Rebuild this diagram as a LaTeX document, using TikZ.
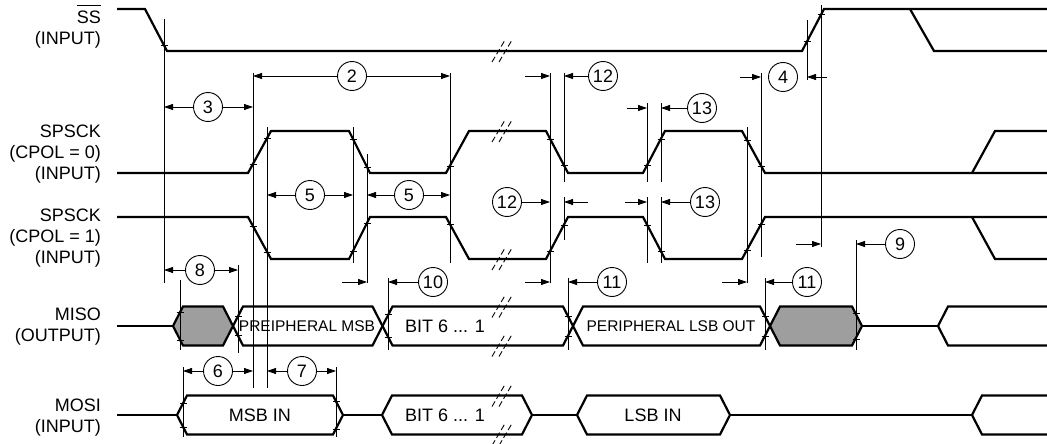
\documentclass[tikz,border=0pt]{standalone}
\usepackage{fontspec}
\setmainfont{Liberation Sans}
\usetikzlibrary{arrows.meta,calc}
\definecolor{shadegray}{gray}{0.62}
\newcommand{\ovl}[1]{$\smash{\overline{\mbox{#1}\rule{0pt}{17pt}}}$}
\begin{document}
\begin{tikzpicture}
[x=1pt,y=-1pt,
  sigdecorate/.style={line width=2.2pt,line join=miter},
  busdecorate/.style={line width=2.2pt,line join=miter},
  guidedecorate/.style={line width=0.8pt},
  tickdecorate/.style={line width=0.8pt},
  dimdecorate/.style={line width=0.8pt,-{Triangle[length=9pt,width=6pt]}},
  breakdecorate/.style={line width=0.9pt,dash pattern=on 6pt off 3pt},
  numdecorate/.style={shape=circle,draw,line width=0.9pt,minimum size=29pt,inner sep=0pt,font=\fontsize{18}{21}\selectfont},
  labeldecorate/.style={anchor=east,align=right,inner sep=0pt,font=\fontsize{18}{21}\selectfont},
  textdecorate/.style={inner sep=0pt,font=\fontsize{18}{21}\selectfont},
  smalltextdecorate/.style={inner sep=0pt,font=\fontsize{15.5}{18}\selectfont}]
\useasboundingbox (0,0) rectangle (1047,444);
%% signal names
\node (lss) at (101,36) [labeldecorate] {\ovl{SS}\\(INPUT)};
\node (lsck0) at (101,154.5) [labeldecorate] {SPSCK\\(CPOL = 0)\\(INPUT)};
\node (lsck1) at (101,238.5) [labeldecorate] {SPSCK\\(CPOL = 1)\\(INPUT)};
\node (lmiso) at (101,327) [labeldecorate] {MISO\\(OUTPUT)};
\node (lmosi) at (101,418) [labeldecorate] {MOSI\\(INPUT)};
%% waveforms
\draw[sigdecorate] (117,9) -- (145,9) -- (167,51) -- (802,51) -- (824,9) -- (1047,9);
\draw[sigdecorate] (910,9) -- (934,51) -- (1047,51);
\draw[sigdecorate] (117,173) -- (248,173) -- (271,131) -- (349,131) -- (370,173) -- (446,173) -- (469,131)
  -- (546,131) -- (568,173) -- (643,173) -- (665,131) -- (742,131) -- (765,173) -- (1047,173);
\draw[sigdecorate] (972,173) -- (995,131) -- (1047,131);
\draw[sigdecorate] (117,217) -- (248,217) -- (271,259) -- (349,259) -- (370,217) -- (446,217) -- (469,259)
  -- (546,259) -- (568,217) -- (643,217) -- (665,259) -- (742,259) -- (765,217) -- (1047,217);
\draw[sigdecorate] (972,217) -- (995,259) -- (1047,259);
%% buses
\foreach \a/\b/\y/\c in {173/233/326/shadegray, 233/382.5/326/none, 382.5/573/326/none,
  573/770/326/none, 770/862/326/shadegray, 177/343/415/none, 382/532/415/none, 577/730/415/none} {
  \draw[busdecorate,fill=\c] (\a,\y) -- (\a+10,\y-19.5) -- (\b-10,\y-19.5) -- (\b,\y)
    -- (\b-10,\y+19.5) -- (\a+10,\y+19.5) -- cycle;
}
\draw[busdecorate] (117,326) -- (173,326) (862,326) -- (938,326);
\draw[busdecorate] (1047,306.5) -- (948,306.5) -- (938,326) -- (948,345.5) -- (1047,345.5);
\draw[busdecorate] (117,415) -- (177,415) (343,415) -- (382,415) (532,415) -- (577,415) (730,415) -- (972,415);
\draw[busdecorate] (1047,395.5) -- (982,395.5) -- (972,415) -- (982,434.5) -- (1047,434.5);
\node (tpmsb) at (307,326) [smalltextdecorate] {PREIPHERAL MSB};
\node (tbitout) at (445,326) [textdecorate] {BIT 6 ... 1};
\node (tplsb) at (671,326) [smalltextdecorate] {PERIPHERAL LSB OUT};
\node (tmsbin) at (260,415) [textdecorate] {MSB IN};
\node (tbitin) at (445,415) [textdecorate] {BIT 6 ... 1};
\node (tlsbin) at (653,415) [textdecorate] {LSB IN};
%% breaks
\foreach \y in {51,131,259,306.5,345.5,395.5,434.5} {
  \draw[breakdecorate] (492,\y+11) -- (505,\y-11);
  \draw[breakdecorate] (499,\y+11) -- (512,\y-11);
}
%% guide lines
\foreach \x in {164,180,183,238,253,267,336,353,367,388,450,550,564,568,647,661,747,761,765,807,821,856} {
  \coordinate (v\x) at (\x,0);
}
\foreach \x/\ya/\yb in {164/19/283, 180/280/350, 183/367/437, 238/265/353, 253/73/388, 267/127/388,
  336/367/437, 353/127/263, 367/154/283, 388/278/350, 450/73/263, 550/73/283, 564/73/182, 564/197/240,
  568/278/350, 647/103/182, 647/197/263, 661/103/182, 661/197/263, 747/127/283, 761/73/257,
  765/278/350, 807/20/80, 821/5/247, 856/240/350} {
  \draw[guidedecorate] (\x,\ya) -- (\x,\yb);
}
\foreach \x/\y in {164/45, 807/41.5, 821/14.7, 253/164, 267/138, 253/226, 267/252, 353/139, 367/167,
  353/251, 367/223, 450/166, 450/224, 550/139, 564/165, 550/251, 564/225, 647/165, 661/139, 647/225,
  661/251, 747/140, 761/166, 747/250, 761/224, 180/312, 180/340, 238/316, 238/335, 388/314, 388/337,
  568/316, 568/336, 765/316, 765/336, 856/313, 856/339, 183/403, 183/427, 336/401, 336/429} {
  \draw[tickdecorate] (\x-3.5,\y) -- (\x+3.5,\y);
}
%% timing numbers
\foreach \nodename/\num/\x/\y in {c2/2/352/76, c3/3/208/107, c4/4/783/77, c5a/5/310/195, c5b/5/409/195,
  c6/6/218/371, c7/7/302/371, c8/8/200/270, c9/9/900/244, c10/10/433/282, c11a/11/612/282,
  c11b/11/807/282, c12a/12/603/76, c12b/12/507/202, c13a/13/702/108, c13b/13/705/202} {
  \node (\nodename) at (\x,\y) [numdecorate] {\num};
}
\foreach \nodename/\side/\guide in {c2/west/253, c2/east/450, c3/west/164, c3/east/253, c5a/west/267,
  c5a/east/353, c5b/west/367, c5b/east/450, c6/west/183, c6/east/253, c7/west/267, c7/east/336,
  c8/west/164, c8/east/238, c9/west/856, c10/west/388, c11a/west/568, c11b/west/765, c12a/west/564,
  c12b/east/550, c13a/west/661, c13b/west/661} {
  \draw[dimdecorate] (\nodename.\side) -- (\nodename.\side -| v\guide);
}
\foreach \nodename/\guide/\len in {c4/761/-21, c4/807/20, c9/821/-25, c10/367/-25, c11a/550/-25,
  c11b/747/-25, c12a/550/-25, c12b/564/24, c13a/647/-20, c13b/647/-22} {
  \draw[dimdecorate] ($(v\guide |- \nodename)+(\len,0)$) -- (v\guide |- \nodename);
}
\end{tikzpicture}
\end{document}
